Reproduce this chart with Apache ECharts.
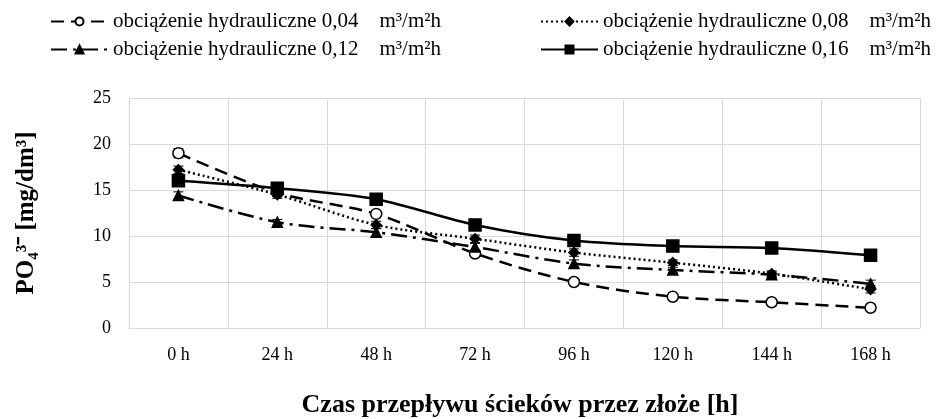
<!DOCTYPE html>
<html>
<head>
<meta charset="utf-8">
<script src="https://cdn.jsdelivr.net/npm/echarts@6/dist/echarts.min.js"></script>
<style>
  html, body { margin: 0; padding: 0; background: #fff; }
  #chart { width: 940px; height: 419px; }
</style>
</head>
<body>
<div id="chart"></div>
<script>
// dane
const categories = ['0 h', '24 h', '48 h', '72 h', '96 h', '120 h', '144 h', '168 h'];
const names = [
    'obciążenie hydrauliczne 0,04    m³/m²h',
    'obciążenie hydrauliczne 0,08    m³/m²h',
    'obciążenie hydrauliczne 0,12    m³/m²h',
    'obciążenie hydrauliczne 0,16    m³/m²h'
];
const load004 = [19.0, 14.7, 12.4, 8.1, 5.0, 3.4, 2.8, 2.2];
const load008 = [17.2, 14.5, 11.2, 9.7, 8.2, 7.1, 5.9, 4.2];
const load012 = [14.4, 11.5, 10.4, 8.8, 7.0, 6.3, 5.8, 4.8];
const load016 = [16.0, 15.2, 14.0, 11.2, 9.5, 8.9, 8.7, 7.9];
// odchylenia (słupki błędów)
const err004 = [0.5, 0.4, 0.3, 0.3, 0.3, 0.2, 0.2, 0.3];
const err008 = [0.4, 0.4, 0.4, 0.4, 0.4, 0.3, 0.3, 0.4];
const err012 = [0.4, 0.3, 0.4, 0.4, 0.4, 0.3, 0.3, 0.4];
const err016 = [0.3, 0.3, 0.3, 0.3, 0.3, 0.3, 0.3, 0.3];
const yTicks = [0, 5, 10, 15, 20, 25];

const serif = '"Liberation Serif", "Times New Roman", serif';
const chart = echarts.init(document.getElementById('chart'));

function errorSeries(values, errs) {
    return {
        type: 'custom',
        silent: true,
        z: 1,
        data: values.map((v, i) => [i, v - errs[i], v + errs[i]]),
        renderItem: function (params, api) {
            const lo = api.coord([api.value(0), api.value(1)]);
            const hi = api.coord([api.value(0), api.value(2)]);
            const w = 5;
            const st = { stroke: '#000', lineWidth: 1 };
            return {
                type: 'group',
                children: [
                    { type: 'line', shape: { x1: lo[0], y1: lo[1], x2: hi[0], y2: hi[1] }, style: st },
                    { type: 'line', shape: { x1: lo[0] - w, y1: lo[1], x2: lo[0] + w, y2: lo[1] }, style: st },
                    { type: 'line', shape: { x1: hi[0] - w, y1: hi[1], x2: hi[0] + w, y2: hi[1] }, style: st }
                ]
            };
        }
    };
}

function lineSeries(name, data, dash, symbol, size, fill) {
    return {
        name: name,
        type: 'line',
        data: data,
        smooth: 0.3,
        z: 3,
        symbol: symbol,
        symbolSize: size,
        lineStyle: { color: '#000', width: 2.5, type: dash },
        itemStyle: { color: fill, borderColor: '#000', borderWidth: 1.5 }
    };
}

const legendText = { fontFamily: serif, fontSize: 21, color: '#000' };

const option = {
    animation: false,
    backgroundColor: '#fff',
    graphic: [{
        type: 'text',
        x: 520,
        y: 392,
        style: {
            text: 'Czas przepływu ścieków przez złoże [h]',
            align: 'center',
            font: 'bold 26px ' + serif,
            fill: '#000'
        }
    }],
    legend: [
        {
            data: [names[0], names[2]],
            orient: 'vertical',
            left: 45,
            top: 6,
            itemGap: 7,
            itemWidth: 57,
            itemHeight: 10,
            textStyle: legendText
        },
        {
            data: [names[1], names[3]],
            orient: 'vertical',
            left: 535,
            top: 6,
            itemGap: 7,
            itemWidth: 57,
            itemHeight: 10,
            textStyle: legendText
        }
    ],
    grid: { left: 129, right: 20, top: 98, bottom: 91 },
    xAxis: {
        type: 'category',
        data: categories,
        boundaryGap: true,
        axisLine: { lineStyle: { color: '#d9d9d9' } },
        axisTick: { show: false },
        axisLabel: { fontFamily: serif, fontSize: 18, color: '#000', margin: 18 },
        splitLine: { show: true, lineStyle: { color: '#d9d9d9' } }
    },
    yAxis: {
        type: 'value',
        min: yTicks[0],
        max: yTicks[yTicks.length - 1],
        interval: 5,
        name: 'PO₄³⁻ [mg/dm³]',
        nameLocation: 'middle',
        nameGap: 90,
        nameTextStyle: { fontFamily: serif, fontSize: 25, fontWeight: 'bold', color: '#000' },
        axisLine: { show: false },
        axisTick: { show: false },
        axisLabel: { fontFamily: serif, fontSize: 18, color: '#000', margin: 18 },
        splitLine: { lineStyle: { color: '#d9d9d9' } }
    },
    series: [
        errorSeries(load004, err004),
        errorSeries(load008, err008),
        errorSeries(load012, err012),
        errorSeries(load016, err016),
        lineSeries(names[0], load004, [13, 7], 'circle', 11, '#fff'),
        lineSeries(names[1], load008, [2, 3], 'diamond', 10, '#000'),
        lineSeries(names[2], load012, [16, 6, 3, 6], 'triangle', 10, '#000'),
        lineSeries(names[3], load016, 'solid', 'rect', 12, '#000')
    ]
};

chart.setOption(option);
</script>
</body>
</html>
